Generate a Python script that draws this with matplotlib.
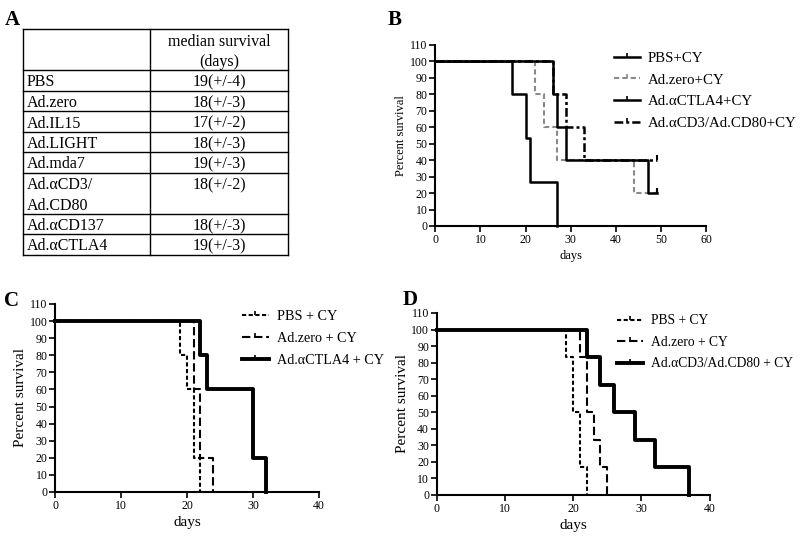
import numpy as np
import matplotlib
matplotlib.use("Agg")
import matplotlib.pyplot as plt
from matplotlib.path import Path
from matplotlib.lines import Line2D

plt.rcParams['font.family'] = ['Liberation Serif', 'DejaVu Serif']

# ---- panel A table ----
table_groups = ["PBS", "Ad.zero", "Ad.IL15", "Ad.LIGHT", "Ad.mda7",
                "Ad.\u03b1CD3/\nAd.CD80", "Ad.\u03b1CD137", "Ad.\u03b1CTLA4"]
table_median = ["19(+/-4)", "18(+/-3)", "17(+/-2)", "18(+/-3)", "19(+/-3)",
                "18(+/-2)", "18(+/-3)", "19(+/-3)"]
table_header = ["median survival", "(days)"]

# ---- panel B ----
b_labels = ["PBS+CY", "Ad.zero+CY", "Ad.\u03b1CTLA4+CY", "Ad.\u03b1CD3/Ad.CD80+CY"]
b_times = [[0, 17, 20, 21, 27],
           [0, 22, 24, 27, 44, 49],
           [0, 26, 27, 29, 47, 49],
           [0, 26, 29, 33, 49]]
b_surv = [[100, 80, 53.3, 26.7, 0],
          [100, 80, 60, 40, 20, 20],
          [100, 80, 60, 40, 20, 20],
          [100, 80, 60, 40, 40]]
b_censor = [None, (49, 20), (49, 20), (49, 40)]

# ---- panel C ----
c_labels = ["PBS + CY", "Ad.zero + CY", "Ad.\u03b1CTLA4 + CY"]
c_times = [[0, 19, 20, 21, 22],
           [0, 21, 22, 24],
           [0, 22, 23, 30, 32]]
c_surv = [[100, 80, 60, 20, 0],
          [100, 60, 20, 0],
          [100, 80, 60, 20, 0]]

# ---- panel D ----
d_labels = ["PBS + CY", "Ad.zero + CY", "Ad.\u03b1CD3/Ad.CD80 + CY"]
d_times = [[0, 19, 20, 21, 22],
           [0, 21, 22, 23, 24, 25],
           [0, 22, 24, 26, 29, 32, 37]]
d_surv = [[100, 83.3, 50, 16.7, 0],
          [100, 83.3, 50, 33.3, 16.7, 0],
          [100, 83.3, 66.7, 50, 33.3, 16.7, 0]]

tick = Path([(0, 0), (0, 1)], [Path.MOVETO, Path.LINETO])

fig = plt.figure(figsize=(8, 5.44), dpi=100)

# table drawn in pixel coordinates
ax_t = fig.add_axes([0, 0, 1, 1])
ax_t.set_xlim(0, 800)
ax_t.set_ylim(544, 0)
ax_t.axis('off')
row_h = 20.5
x0, xm, x1 = 23, 150, 288
xc = (xm + x1) / 2
y = 29
lines_y = [y]
y += 2 * row_h
lines_y.append(y)
for g in table_groups:
    y += row_h * (g.count("\n") + 1)
    lines_y.append(y)
for yy in lines_y:
    ax_t.plot([x0, x1], [yy, yy], color='black', lw=1)
for xx in (x0, xm, x1):
    ax_t.plot([xx, xx], [lines_y[0], lines_y[-1]], color='black', lw=1)
for k, h in enumerate(table_header):
    ax_t.text(xc, lines_y[0] + row_h * (k + 1) - 4, h, ha='center', va='baseline',
              fontsize=11.5)
for i, (g, m) in enumerate(zip(table_groups, table_median)):
    top = lines_y[i + 1]
    for k, part in enumerate(g.split("\n")):
        ax_t.text(x0 + 4, top + row_h * (k + 1) - 4, part, ha='left', va='baseline',
                  fontsize=11.5)
    ax_t.text(xc, top + row_h - 4, m, ha='center', va='baseline', fontsize=11.5)
ax_t.text(5, 25, "A", fontsize=15, fontweight='bold', ha='left', va='baseline')
ax_t.text(388, 25, "B", fontsize=15, fontweight='bold', ha='left', va='baseline')
ax_t.text(4, 306, "C", fontsize=15, fontweight='bold', ha='left', va='baseline')
ax_t.text(403, 305, "D", fontsize=15, fontweight='bold', ha='left', va='baseline')


def style_axes(ax, xmax, fs_tick, fs_label):
    ax.set_xlim(0, xmax)
    ax.set_ylim(0, 110)
    ax.set_yticks(np.arange(0, 111, 10))
    ax.set_xticks(np.arange(0, xmax + 1, 10))
    for s in ('top', 'right'):
        ax.spines[s].set_visible(False)
    for s in ('left', 'bottom'):
        ax.spines[s].set_linewidth(1.5)
    ax.tick_params(direction='out', length=4, width=1.2, labelsize=fs_tick, pad=1.5)
    ax.set_ylabel("Percent survival", fontsize=fs_label, labelpad=2)
    ax.set_xlabel("days", fontsize=fs_label, labelpad=3)


# ---- B ----
axB = fig.add_axes([0.544, 0.5846, 0.339, 0.3327])
b_styles = [dict(color='black', lw=1.8, ls='-'),
            dict(color='#8a8a8a', lw=1.5, ls=(0, (2.5, 1.5))),
            dict(color='black', lw=1.8, ls='-'),
            dict(color='black', lw=1.8, ls=(0, (3.5, 1.2, 1.2, 1.2)))]
handles = []
for t, s, st, c, lab in zip(b_times, b_surv, b_styles, b_censor, b_labels):
    axB.step(t, s, where='post', clip_on=False, **st)
    if c is not None:
        axB.plot([c[0]], [c[1]], marker=tick, ms=7, mew=1.5, ls='none',
                 color=st['color'], clip_on=False)
    handles.append(Line2D([], [], marker=tick, ms=6, mew=1.2, label=lab, **st))
style_axes(axB, 60, 8.5, 9)
axB.legend(handles=handles, loc='upper left', bbox_to_anchor=(0.768, 0.905),
           bbox_transform=fig.transFigure, frameon=False, fontsize=10.7,
           handlelength=1.7, handletextpad=0.55, labelspacing=0.55,
           borderpad=0, borderaxespad=0, numpoints=1)

# ---- C and D ----
cd_styles = [dict(color='black', lw=1.5, ls=(0, (2, 1.2))),
             dict(color='black', lw=1.5, ls=(0, (4, 1.8))),
             dict(color='black', lw=2.8, ls='-')]


def km_panel(rect, times, survs, labels, leg_anchor, fs):
    ax = fig.add_axes(rect)
    hs = []
    for t, s, st, lab in zip(times, survs, cd_styles, labels):
        ax.step(t, s, where='post', clip_on=False, **st)
        hs.append(Line2D([], [], marker=tick, ms=6, mew=1.2, label=lab, **st))
    style_axes(ax, 40, 8.5, 11)
    ax.legend(handles=hs, loc='upper left', bbox_to_anchor=leg_anchor,
              bbox_transform=fig.transFigure, frameon=False, fontsize=fs,
              handlelength=1.9, handletextpad=0.6, labelspacing=0.62,
              borderpad=0, borderaxespad=0, numpoints=1)
    return ax


km_panel([0.06875, 0.0956, 0.33, 0.3456], c_times, c_surv, c_labels, (0.302, 0.430), 10.2)
km_panel([0.546, 0.0901, 0.341, 0.3346], d_times, d_surv, d_labels, (0.771, 0.422), 9.8)

fig.savefig("out.png", dpi=100)
